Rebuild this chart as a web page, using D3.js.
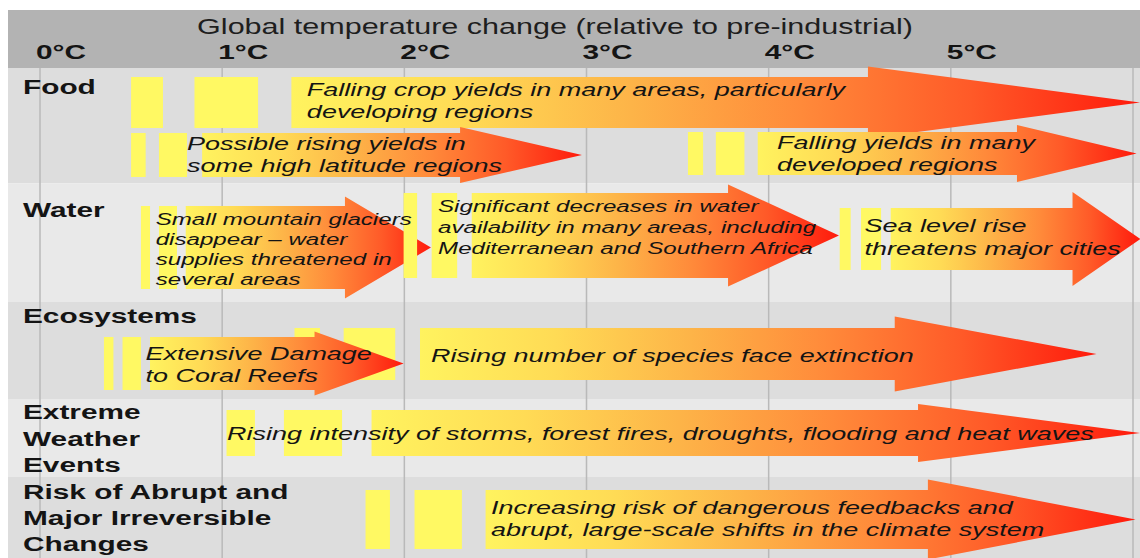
<!DOCTYPE html>
<html>
<head>
<meta charset="utf-8">
<script src="https://cdn.jsdelivr.net/npm/d3@7"></script>
<style>
  body { margin: 0; background: #fff; }
  svg text { font-family: "Liberation Sans", Arial, sans-serif; }
</style>
</head>
<body>
<svg width="1140" height="558"></svg>
<script>
// Axis: temperature change in degrees C
var tickValues = [0, 1, 2, 3, 4, 5, 6];
var tickLabels = ["0°C", "1°C", "2°C", "3°C", "4°C", "5°C"];
var title = "Global temperature change (relative to pre-industrial)";

// Row headings (one entry per band, one string per line)
var rowLabels = [
    ["Food"],
    ["Water"],
    ["Ecosystems"],
    ["Extreme", "Weather", "Events"],
    ["Risk of Abrupt and", "Major Irreversible", "Changes"]
];

// Impacts, in drawing order (degrees C)
var impactText = [
    ["Falling crop yields in many areas, particularly", "developing regions"],
    ["Possible rising yields in", "some high latitude regions"],
    ["Falling yields in many", "developed regions"],
    ["Small mountain glaciers", "disappear  \u2013 water", "supplies threatened in", "several areas"],
    ["Significant decreases in water", "availability in many areas, including", "Mediterranean and Southern Africa"],
    ["Sea level rise", "threatens major cities"],
    ["Rising number of species face extinction"],
    ["Extensive Damage", "to Coral Reefs"],
    ["Rising intensity of storms, forest fires, droughts, flooding and heat waves"],
    ["Increasing risk of dangerous feedbacks and", "abrupt, large-scale shifts in the climate system"]
];
var impactStart = [1.38, 0.89, 3.94, 0.80, 2.37, 4.67, 2.086, 0.604, 1.82, 2.446];
var impactHead  = [4.545, 2.306, 5.363, 1.674, 3.777, 5.668, 4.692, 1.507, 4.82, 4.874];
var impactEnd   = [6.04, 2.975, 6.02, 2.146, 4.386, 6.04, 5.80, 1.996, 6.04, 6.014];
var impactTextAt = [1.465, 0.807, 4.046, 0.635, 2.185, 4.526, 2.146, 0.579, 1.027, 2.476];
// yellow blocks in front of each arrow
var impactBars = [
    [[0.50, 0.675], [0.848, 1.197]],
    [[0.50, 0.58], [0.653, 0.807]],
    [[3.557, 3.64], [3.71, 3.867]],
    [[0.554, 0.604], [0.653, 0.752]],
    [[1.996, 2.07], [2.15, 2.29]],
    [[4.39, 4.45], [4.507, 4.617]],
    [[1.397, 1.537], [1.667, 1.95]],
    [[0.351, 0.403], [0.453, 0.554]],
    [[1.024, 1.18], [1.339, 1.658]],
    [[1.787, 1.921], [2.056, 2.316]]
];

// ---- layout (pixels) ----
var svg = d3.select("svg"),
    width = +svg.attr("width"),
    height = +svg.attr("height");

var SX = 1.42; // the original is stretched sideways
var bandEdges = [68, 183.5, 301.5, 399, 477, 558];
var bandFill = ["#dddddd", "#e9e9e9"];
var labelBase = [[94], [217], [322.5], [419, 445.5, 471.5], [499, 525, 551]];
// body top, body bottom, head half height
var lanes = [
    [77, 128, 36], [133, 177, 28], [132, 175, 28.5],
    [206, 289, 51], [193, 278, 51], [208, 270, 47],
    [328, 380, 37.5], [337, 390, 32], [410, 456, 29], [490, 549, 40]
];
var textBase = [
    [96, 118], [149.5, 171.5], [149, 170.5],
    [225, 245, 265, 285], [212, 233, 253.5], [232, 255],
    [362], [360, 382], [440], [513.5, 535.5]
];
var textSize = [19, 19, 19, 17, 17, 19, 19, 19, 19, 19];

var x = d3.scaleLinear().domain([0, 6]).range([40, 1133]);

// gradient for the arrows
var grad = svg.append("defs").append("linearGradient")
    .attr("id", "heat")
    .attr("x1", 0).attr("x2", 1).attr("y1", 0).attr("y2", 0);
[["0", "#fff35f"], ["0.2", "#ffdb55"], ["0.4", "#fdb448"], ["0.6", "#ff8a3a"],
 ["0.8", "#ff5a28"], ["1", "#ff1a0c"]].forEach(function (s) {
    grad.append("stop").attr("offset", s[0]).attr("stop-color", s[1]);
});

// header
svg.append("rect")
    .attr("x", 8).attr("y", 10)
    .attr("width", width - 8).attr("height", bandEdges[0] - 10)
    .attr("fill", "#b3b3b3");

// bands
svg.append("g")
    .selectAll("rect")
    .data(d3.range(bandEdges.length - 1))
    .enter().append("rect")
    .attr("x", 8)
    .attr("y", function (i) { return bandEdges[i]; })
    .attr("width", width - 8)
    .attr("height", function (i) { return bandEdges[i + 1] - bandEdges[i]; })
    .attr("fill", function (i) { return bandFill[i % 2]; });

// grid lines
svg.append("g")
    .selectAll("line")
    .data(tickValues)
    .enter().append("line")
    .attr("x1", function (d) { return x(d); })
    .attr("x2", function (d) { return x(d); })
    .attr("y1", bandEdges[0])
    .attr("y2", height)
    .style("stroke", "#b9b9b9")
    .style("stroke-width", 1.5);

function stretchedText(g, str, px, py, size, weight, style, anchor) {
    return g.append("text")
        .attr("transform", "translate(" + px + "," + py + ") scale(" + SX + ",1)")
        .attr("text-anchor", anchor || "start")
        .style("font-size", size + "px")
        .style("font-weight", weight || "normal")
        .style("font-style", style || "normal")
        .style("fill", "#141414")
        .text(str);
}

// title + tick labels
var head = svg.append("g");
stretchedText(head, title, 555, 34, 21.5, "normal", "normal", "middle").style("fill", "#1e1e1e");
tickLabels.forEach(function (t, i) {
    stretchedText(head, t, x(tickValues[i]) - 4, 58.5, 21, "bold");
});

// arrows and yellow blocks
var marks = svg.append("g");
impactText.forEach(function (lines, i) {
    var ln = lanes[i], top = ln[0], bot = ln[1], mid = (top + bot) / 2, hh = ln[2];
    impactBars[i].forEach(function (b) {
        marks.append("rect")
            .attr("x", x(b[0]))
            .attr("y", top)
            .attr("width", x(b[1]) - x(b[0]))
            .attr("height", bot - top)
            .attr("fill", "#fff963");
    });
    var x0 = x(impactStart[i]), xh = x(impactHead[i]), x1 = x(impactEnd[i]);
    var pts = [[x0, top], [xh, top], [xh, mid - hh], [x1, mid],
               [xh, mid + hh], [xh, bot], [x0, bot]];
    marks.append("path")
        .attr("d", d3.line()(pts) + "Z")
        .attr("fill", "url(#heat)");
});

// arrow captions
var captions = svg.append("g");
impactText.forEach(function (lines, i) {
    lines.forEach(function (s, j) {
        stretchedText(captions, s, x(impactTextAt[i]), textBase[i][j], textSize[i], "normal", "italic");
    });
});

// row labels
var labels = svg.append("g");
rowLabels.forEach(function (lines, i) {
    lines.forEach(function (s, j) {
        stretchedText(labels, s, 23, labelBase[i][j], 21, "bold");
    });
});
</script>
</body>
</html>
